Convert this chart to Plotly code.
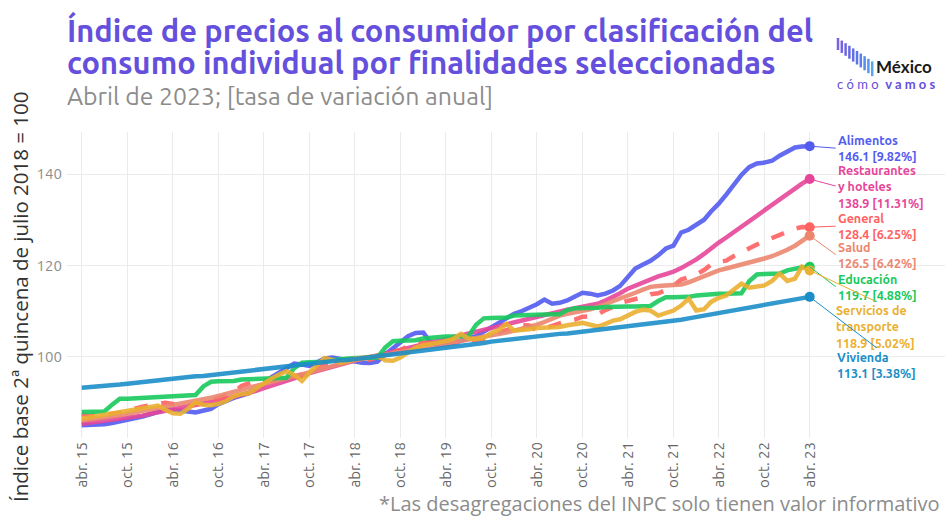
import plotly.graph_objects as go
import pandas as pd

# ---------------- data ----------------
fechas = pd.date_range("2015-04-01", "2023-04-01", freq="MS")

alimentos = [85.0, 85.0, 85.1, 85.2, 85.5, 85.8, 86.1, 86.4, 86.9, 87.4, 88.0, 88.4,
             88.4, 88.3, 88.0, 87.8, 88.1, 88.6, 89.6, 90.4, 91.0, 91.5, 92.0, 93.0,
             94.0, 95.5, 96.5, 97.5, 98.5, 98.3, 98.0, 98.8, 99.6, 99.8, 99.5, 99.2,
             98.9, 98.7, 98.6, 98.9, 100.5, 101.8, 103.0, 104.5, 105.2, 105.3, 103.0, 102.5,
             102.8, 103.0, 103.5, 104.0, 104.5, 105.5, 106.5, 107.5, 108.5, 109.4, 110.0, 110.7,
             111.5, 112.5, 111.6, 111.8, 112.3, 113.2, 114.0, 113.8, 113.4, 113.8, 114.5, 115.5,
             117.3, 119.3, 120.2, 121.0, 122.2, 123.7, 124.3, 127.2, 127.8, 128.8, 130.0, 131.8,
             133.5, 135.5, 137.8, 139.8, 141.5, 142.3, 142.5, 142.9, 144.0, 145.0, 145.8, 146.0,
             146.1]

restaurantes = [85.3, 85.5, 85.7, 85.9, 86.1, 86.4, 86.6, 86.8, 87.1, 87.5, 87.8, 88.1,
                88.4, 88.7, 89.0, 89.3, 89.6, 90.0, 90.4, 90.8, 91.2, 91.6, 92.0, 92.5,
                93.1, 93.6, 94.1, 94.6, 95.2, 95.8, 96.4, 96.9, 97.4, 97.9, 98.4, 98.8,
                99.3, 99.6, 99.9, 100.3, 100.7, 101.1, 101.5, 101.9, 102.3, 102.7, 103.1, 103.5,
                103.8, 104.2, 104.6, 105.0, 105.4, 105.8, 106.2, 106.6, 107.1, 107.6, 108.0, 108.4,
                108.8, 109.1, 109.5, 110.0, 110.3, 110.6, 110.9, 111.2, 111.6, 112.3, 113.0, 113.9,
                114.9, 115.6, 116.3, 117.0, 117.6, 118.1, 118.6, 119.4, 120.3, 121.3, 122.5, 123.8,
                125.0, 126.1, 127.3, 128.6, 129.9, 131.1, 132.3, 133.3, 134.4, 135.6, 136.8, 137.9,
                138.9]

general = [87.40, 87.00, 87.10, 87.24, 87.43, 87.75, 88.20, 88.69, 89.05,
           89.39, 89.78, 89.91, 89.63, 89.23, 89.32, 89.56, 89.81, 90.36, 90.91, 91.62, 92.04,
           93.60, 94.15, 94.72, 94.84, 94.73, 94.96, 95.32, 95.79, 96.09, 96.70, 97.70, 98.27,
           98.80, 99.17, 99.49, 99.16, 98.99, 99.38, 99.91, 100.49, 100.92, 101.44, 102.30, 103.02,
           103.11, 103.08, 103.48, 103.53, 103.23, 103.30, 103.69, 103.67, 103.94, 104.50, 105.35, 105.93,
           106.45, 106.89, 106.84, 105.76, 106.16, 106.74, 107.44, 107.87, 108.11, 108.77, 108.86, 109.27,
           110.21, 110.91, 111.82, 112.19, 112.42, 113.02, 113.68, 113.90, 114.60, 115.56, 116.88, 117.31,
           118.00, 118.98, 120.16, 120.81, 121.02, 122.04, 122.95, 123.80, 124.57, 125.28, 126.00, 126.48,
           127.34, 128.05, 128.39, 128.36]

salud = [86.0, 86.2, 86.5, 86.7, 87.0, 87.2, 87.5, 87.8, 88.1, 88.5, 88.8, 89.1,
         89.3, 89.6, 89.9, 90.2, 90.6, 91.0, 91.4, 91.8, 92.3, 92.8, 93.2, 93.6,
         94.0, 94.4, 94.8, 95.2, 95.6, 96.0, 96.5, 97.0, 97.5, 98.0, 98.4, 98.8,
         99.2, 99.5, 99.8, 100.1, 100.4, 100.7, 101.0, 101.4, 101.7, 102.0, 102.3, 102.6,
         102.9, 103.2, 103.5, 103.8, 104.1, 104.4, 104.7, 105.0, 105.3, 105.7, 106.1, 106.5,
         107.0, 107.6, 108.3, 109.0, 109.4, 109.7, 110.0, 110.4, 110.9, 111.5, 112.1, 112.7,
         113.3, 114.0, 114.7, 115.3, 115.5, 115.6, 115.7, 115.8, 116.3, 117.0, 117.7, 118.3,
         118.9, 119.3, 119.7, 120.1, 120.5, 121.0, 121.5, 122.0, 122.6, 123.4, 124.3, 125.4,
         126.5]

educacion = [87.9, 87.9, 88.0, 88.0, 89.5, 90.8, 90.8, 90.9, 90.9, 91.0, 91.3, 91.4,
             91.5, 91.5, 91.5, 91.6, 93.5, 94.5, 94.6, 94.6, 94.7, 95.0, 95.1, 95.2,
             95.3, 95.3, 95.3, 95.4, 97.5, 98.7, 98.8, 98.8, 98.9, 99.3, 99.5, 99.6,
             99.7, 99.7, 99.8, 99.8, 102.0, 103.4, 103.5, 103.5, 103.6, 104.0, 104.2, 104.3,
             104.4, 104.4, 104.5, 104.5, 107.0, 108.4, 108.5, 108.5, 108.6, 109.0, 109.1, 109.2,
             109.2, 109.2, 109.3, 109.3, 110.2, 110.6, 110.6, 110.6, 110.7, 110.9, 111.0, 111.0,
             111.0, 111.0, 111.0, 111.1, 112.2, 113.0, 113.0, 113.0, 113.1, 113.4, 113.6, 113.7,
             113.8, 113.8, 113.8, 113.9, 116.5, 118.0, 118.1, 118.1, 118.2, 118.9, 119.4, 119.6,
             119.7]

transporte = [86.4, 86.7, 87.0, 87.2, 87.4, 87.8, 88.2, 88.5, 88.8, 89.0, 89.3, 88.4,
              87.6, 87.5, 88.6, 90.0, 89.5, 89.4, 89.7, 90.3, 91.3, 91.8, 92.0, 93.0,
              94.2, 95.2, 96.1, 96.8, 96.0, 94.7, 96.5, 98.0, 99.7, 99.3, 98.7, 99.0,
              99.6, 99.8, 100.0, 100.2, 99.2, 99.1, 99.8, 101.0, 102.0, 102.5, 102.8, 103.0,
              103.4, 103.9, 105.0, 104.0, 103.9, 104.2, 105.2, 105.9, 107.2, 105.7, 105.8, 106.0,
              106.3, 106.4, 106.4, 106.5, 106.9, 107.2, 107.4, 107.0, 106.6, 107.2, 107.9, 108.2,
              109.0, 109.8, 110.3, 110.1, 109.0, 109.5, 110.1, 111.2, 112.7, 110.1, 110.4, 112.0,
              112.9, 113.4, 114.6, 116.0, 115.1, 115.3, 115.6, 116.6, 118.2, 116.6, 117.1, 119.7,
              118.9]

vivienda = [93.2, 93.3, 93.5, 93.6, 93.8, 93.9, 94.1, 94.3, 94.5, 94.7, 94.8, 95.0,
            95.2, 95.3, 95.5, 95.7, 95.8, 96.0, 96.2, 96.4, 96.6, 96.8, 97.0, 97.2,
            97.4, 97.6, 97.7, 97.9, 98.1, 98.2, 98.4, 98.6, 98.8, 99.0, 99.2, 99.3,
            99.5, 99.7, 99.9, 100.2, 100.4, 100.6, 100.9, 101.1, 101.3, 101.5, 101.7, 101.8,
            102.0, 102.2, 102.4, 102.6, 102.8, 103.0, 103.3, 103.5, 103.7, 103.9, 104.2, 104.4,
            104.6, 104.7, 104.9, 105.0, 105.1, 105.3, 105.4, 105.6, 105.8, 106.0, 106.1, 106.3,
            106.5, 106.7, 106.9, 107.2, 107.4, 107.7, 107.9, 108.1, 108.4, 108.7, 108.9, 109.2,
            109.4, 109.7, 110.0, 110.3, 110.6, 110.9, 111.2, 111.5, 111.8, 112.2, 112.5, 112.8,
            113.1]

nombres = ["Alimentos", "Restaurantes<br>y hoteles", "General", "Salud", "Educación",
           "Servicios de<br>transporte", "Vivienda"]
variaciones = ["9.82%", "11.31%", "6.25%", "6.42%", "4.88%", "5.02%", "3.38%"]
series = [alimentos, restaurantes, general, salud, educacion, transporte, vivienda]

tick_vals = pd.date_range("2015-04-01", "2023-04-01", freq="6MS")
tick_text = ["abr. 15", "oct. 15", "abr. 16", "oct. 16", "abr. 17", "oct. 17", "abr. 18",
             "oct. 18", "abr. 19", "oct. 19", "abr. 20", "oct. 20", "abr. 21", "oct. 21",
             "abr. 22", "oct. 22", "abr. 23"]

titulo_1 = "Índice de precios al consumidor por clasificación del"
titulo_2 = "consumo individual por finalidades seleccionadas"
subtitulo = "Abril de 2023; [tasa de variación anual]"
nota = "*Las desagregaciones del INPC solo tienen valor informativo"
y_titulo = "Índice base 2ª quincena de julio 2018 = 100"

# ---------------- styles ----------------
colores = ["#535CF0", "#E6469A", "#FF6262", "#EC876F", "#18C95E", "#EAB030", "#1B8EC8"]
dashes = ["solid", "solid", "dash", "solid", "solid", "solid", "solid"]
# label placement: (ax, ay, xanchor, yanchor) in pixels relative to the end point
label_pos = [(26, 2, "left", "middle"), (26, 7, "left", "middle"), (26, -1, "left", "middle"),
             (26, 19, "left", "middle"), (26, 20, "left", "middle"),
             (66, 31, "center", "top"), (67, 51, "center", "top")]

W, H = 945, 516
ML, MR, MT, MB = 67, 0, 132, 78
PW, PH = W - ML - MR, H - MT - MB


def xp(px):
    return (px - ML) / PW


def yp(py):
    return (H - MB - py) / PH


fig = go.Figure()
for s, c, d in zip(series, colores, dashes):
    fig.add_trace(go.Scatter(x=fechas, y=s, mode="lines",
                             line=dict(color=c, width=4.5, dash=d), opacity=0.9,
                             hoverinfo="skip", showlegend=False))
for s, c in zip(series, colores):
    fig.add_trace(go.Scatter(x=[fechas[-1]], y=[s[-1]], mode="markers",
                             marker=dict(color=c, size=10), showlegend=False, hoverinfo="skip"))

lab_font = "Ubuntu, Lato, sans-serif"
for s, c, n, v, (ax, ay, xa, ya) in zip(series, colores, nombres, variaciones, label_pos):
    fig.add_annotation(x=fechas[-1], y=s[-1], xref="x", yref="y",
                       text=f"<b>{n}<br>{s[-1]:.1f} [{v}]</b>",
                       showarrow=True, arrowhead=0, arrowwidth=1, arrowcolor=c,
                       ax=ax, ay=ay, xanchor=xa, yanchor=ya, align="left",
                       font=dict(family=lab_font, size=12.5, color=c))

# titles
tfont = dict(family="Ubuntu, Lato, sans-serif", size=30.8, color="#6450DC")
fig.add_annotation(xref="paper", yref="paper", x=xp(65), y=yp(29), xanchor="left", yanchor="middle",
                   text=f"<b>{titulo_1}</b>", showarrow=False, font=tfont)
fig.add_annotation(xref="paper", yref="paper", x=xp(65), y=yp(63), xanchor="left", yanchor="middle",
                   text=f"<b>{titulo_2}</b>", showarrow=False, font=tfont)
fig.add_annotation(xref="paper", yref="paper", x=xp(65), y=yp(96), xanchor="left", yanchor="middle",
                   text=subtitulo, showarrow=False,
                   font=dict(family="Ubuntu, Lato, sans-serif", size=24.8, color="#8C8C8C"))
fig.add_annotation(xref="paper", yref="paper", x=xp(942), y=yp(503), xanchor="right", yanchor="middle",
                   text=nota, showarrow=False,
                   font=dict(family="Open Sans, sans-serif", size=20, color="#8C8C8C"))
fig.add_annotation(xref="paper", yref="paper", x=xp(20), y=yp(297), xanchor="center", yanchor="middle",
                   text=y_titulo, textangle=-90, showarrow=False,
                   font=dict(family="Open Sans, sans-serif", size=20.5, color="#333333"))

# logo
bar_cols = ["#7A62DC", "#7463DE", "#6E66E0", "#6869E2", "#626EE4", "#5C76E6",
            "#5880E8", "#568CEB", "#5698EE", "#58A4F0"]
for i, bc in enumerate(bar_cols):
    x0 = 838 + i * 3.8
    fig.add_shape(type="line", xref="paper", yref="paper",
                  x0=xp(x0), x1=xp(x0), y0=yp(38 + i * 2.6), y1=yp(50 + i * 2.9),
                  line=dict(color=bc, width=2.5))
fig.add_annotation(xref="paper", yref="paper", x=xp(874), y=yp(66), xanchor="left", yanchor="middle",
                   text="<b>México</b>", showarrow=False,
                   font=dict(family="Lato, sans-serif", size=17, color="#1A1A1A"))
fig.add_annotation(xref="paper", yref="paper", x=xp(835), y=yp(84), xanchor="left", yanchor="middle",
                   text="c ó m o  <b>v a m o s</b>", showarrow=False,
                   font=dict(family="Lato, sans-serif", size=13, color="#6450DC"))

fig.update_layout(
    width=W, height=H, margin=dict(l=ML, r=MR, t=MT, b=MB, autoexpand=False),
    plot_bgcolor="white", paper_bgcolor="white",
    xaxis=dict(range=["2015-02-01", "2024-09-25"], tickvals=tick_vals, ticktext=tick_text,
               tickangle=-90, showgrid=True, gridcolor="#EBEBEB", gridwidth=1, zeroline=False,
               showline=False, ticks="",
               tickfont=dict(family="Ubuntu, Lato, sans-serif", size=15, color="#666666")),
    yaxis=dict(range=[82.2, 149.2], tickvals=[100, 120, 140], showgrid=True, gridcolor="#EBEBEB",
               gridwidth=1, zeroline=False, showline=False, ticks="", ticklabelstandoff=4,
               tickfont=dict(family="Ubuntu, Lato, sans-serif", size=15, color="#8C8C8C")),
    font=dict(family="Lato, sans-serif"),
)

fig.write_html("out.html", config={"displayModeBar": False},
               post_script="document.body.style.margin='0px';")
